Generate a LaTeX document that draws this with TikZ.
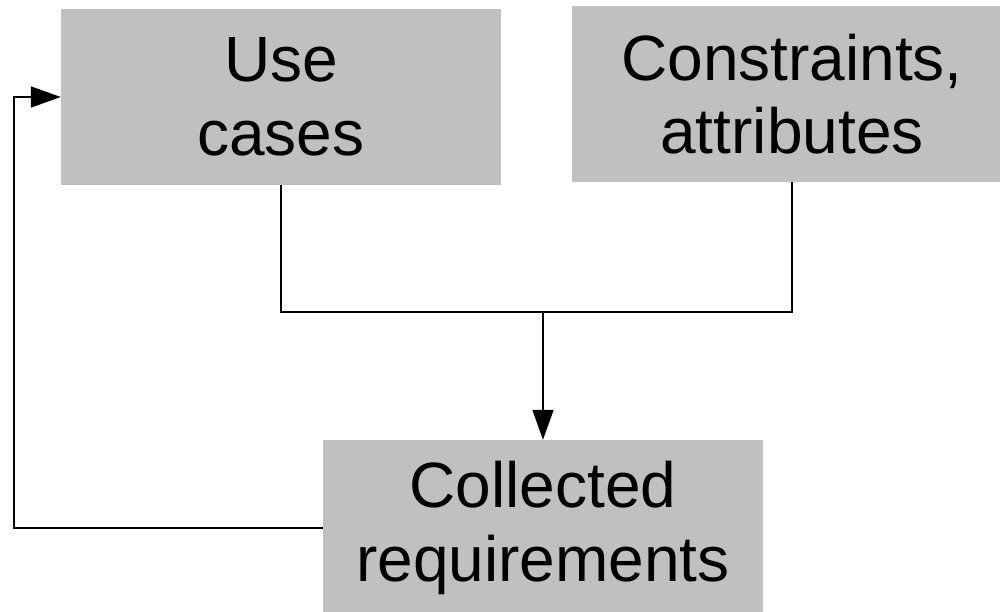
\documentclass[tikz,border=0pt]{standalone}
\usepackage{fontspec}
\setmainfont{Liberation Sans}
\usetikzlibrary{arrows.meta}
\definecolor{boxgray}{RGB}{192,192,192}
\tikzset{
  box/.style={fill=boxgray, draw=none, minimum width=440pt, minimum height=176pt,
    inner sep=0pt, align=center, font=\fontsize{64}{73.6}\selectfont},
  conn/.style={line width=1.5pt, draw=black},
  arr/.style={conn, -{Triangle[length=30pt, width=21pt]}}
}
\begin{document}
\begin{tikzpicture}[x=1pt, y=-1pt]
  \useasboundingbox (0,0) rectangle (1000,611);
  \begin{scope}
    \clip (0,0) rectangle (1000,611);
    \node[box] (uc)  at (281,97)  {Use\\cases};
    \node[box] (con) at (792,94)  {Constraints,\\attributes};
    \node[box] (col) at (543,528) {Collected\\requirements};
  \end{scope}
  \coordinate (j) at (543,312);
  \coordinate (fb) at (14,300);
  \draw[conn] (uc.south) |- (j) -| (con.south);
  \draw[arr] (j) -- (col.north);
  \draw[arr] (col.west) -| (fb) |- (uc.west);
\end{tikzpicture}
\end{document}
